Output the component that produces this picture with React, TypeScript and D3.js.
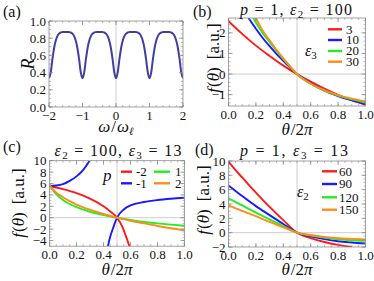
import React from 'react';
import * as d3 from 'd3';

const W = 374;
const H = 281;
const FONT = '"Liberation Serif", "Times New Roman", serif';
const FRAME = '#8c8c8c';
const AXIS = '#c8c8c8';

// (a) R versus omega/omega_l, sampled every 0.05 from -2 to 2
const omegaA = d3.range(81).map(i => -2 + i * 0.05);
const reflA = [
  0.335, 0.40, 0.55, 0.68, 0.77, 0.825, 0.853, 0.866, 0.871, 0.873,
  0.873, 0.873, 0.871, 0.866, 0.853, 0.825, 0.77, 0.68, 0.55, 0.40,
  0.335, 0.40, 0.55, 0.68, 0.77, 0.825, 0.853, 0.866, 0.871, 0.873,
  0.873, 0.873, 0.871, 0.866, 0.853, 0.825, 0.77, 0.68, 0.55, 0.40,
  0.335, 0.40, 0.55, 0.68, 0.77, 0.825, 0.853, 0.866, 0.871, 0.873,
  0.873, 0.873, 0.871, 0.866, 0.853, 0.825, 0.77, 0.68, 0.55, 0.40,
  0.335, 0.40, 0.55, 0.68, 0.77, 0.825, 0.853, 0.866, 0.871, 0.873,
  0.873, 0.873, 0.871, 0.866, 0.853, 0.825, 0.77, 0.68, 0.55, 0.40,
  0.335,
];

// (b) p = 1, eps2 = 100, eps3 = 3, 10, 20, 30
const legendB = ['3', '10', '20', '30'];
const thetaB3 = [0, 0.1, 0.2, 0.3, 0.4, 0.5, 0.6, 0.7, 0.8, 0.9, 1.0];
const fB3 = [2.57, 1.95, 1.38, 0.88, 0.41, 0, -0.37, -0.71, -1.01, -1.27, -1.5];
const thetaB10 = [0.146, 0.2, 0.25, 0.3, 0.35, 0.4, 0.45, 0.5, 0.6, 0.7, 0.8, 0.9, 1.0];
const fB10 = [2.72, 2.2, 1.75, 1.35, 0.98, 0.64, 0.31, 0, -0.45, -0.8, -1.07, -1.28, -1.46];
const thetaB20 = [0.182, 0.2, 0.25, 0.3, 0.35, 0.4, 0.45, 0.5, 0.6, 0.7, 0.8, 0.9, 1.0];
const fB20 = [2.72, 2.5, 1.98, 1.56, 1.13, 0.72, 0.35, 0, -0.47, -0.8, -1.05, -1.23, -1.38];
const thetaB30 = [0.2, 0.25, 0.3, 0.35, 0.4, 0.45, 0.5, 0.6, 0.7, 0.8, 0.9, 1.0];
const fB30 = [2.72, 2.1, 1.64, 1.18, 0.76, 0.37, 0, -0.47, -0.78, -1.02, -1.19, -1.32];

// (c) eps2 = 100, eps3 = 13, p = -2, -1, 1, 2
const legendC = ['-2', '-1', '1', '2'];
const thetaCm2 = [0, 0.1, 0.2, 0.3, 0.4, 0.45, 0.5, 0.54, 0.57, 0.592];
const fCm2 = [5.56, 5.0, 4.3, 3.35, 2.0, 1.1, 0, -1.6, -3.5, -5.0];
const thetaCm1a = [0, 0.05, 0.1, 0.15, 0.2, 0.25, 0.28, 0.297];
const fCm1a = [5.56, 5.65, 5.9, 6.45, 7.25, 8.4, 9.4, 10];
const thetaCm1b = [0.433, 0.45, 0.47, 0.5, 0.55, 0.6, 0.7, 0.8, 0.9, 1.0];
const fCm1b = [-5.0, -3.3, -1.9, 0, 1.45, 2.15, 2.75, 3.1, 3.33, 3.5];
const thetaC = [0, 0.02, 0.05, 0.1, 0.15, 0.2, 0.3, 0.4, 0.5, 0.6, 0.7, 0.8, 0.9, 1.0];
const fC1 = [5.9, 5.0, 4.15, 3.1, 2.4, 1.85, 1.05, 0.47, 0, -0.4, -0.75, -1.0, -1.22, -1.4];
const fC2 = [5.8, 5.1, 4.4, 3.6, 2.9, 2.3, 1.4, 0.65, 0, -0.53, -1.0, -1.45, -1.85, -2.2];

// (d) p = 1, eps3 = 13, eps2 = 60, 90, 120, 150
const legendD = ['60', '90', '120', '150'];
const thetaD60 = [0, 0.05, 0.1, 0.2, 0.3, 0.4, 0.5, 0.6, 0.7, 0.8, 0.9];
const fD60 = [9.9, 8.75, 7.7, 5.6, 3.6, 1.75, 0, -0.75, -1.3, -1.7, -2.0];
const thetaD = [0, 0.1, 0.2, 0.3, 0.4, 0.5, 0.6, 0.7, 0.8, 0.9, 1.0];
const fD90 = [6.6, 5.1, 3.7, 2.45, 1.2, 0, -0.5, -0.9, -1.2, -1.38, -1.52];
const fD120 = [4.8, 3.8, 2.8, 1.85, 0.92, 0, -0.4, -0.7, -0.93, -1.05, -1.15];
const fD150 = [3.8, 3.05, 2.3, 1.5, 0.75, 0, -0.33, -0.58, -0.77, -0.87, -0.95];

const RED = '#ff1a1a';
const BLUE = '#1a1aff';
const GREEN = '#22ee22';
const ORANGE = '#ff8c1a';

type Series = { xs: number[]; ys: number[]; color: string };
type Box = { left: number; right: number; top: number; bottom: number };

type PanelProps = {
  id: string;
  box: Box;
  xDomain: [number, number];
  yDomain: [number, number];
  xMajor: number[];
  xMinor: number[];
  yMajor: number[];
  yMinor: number[];
  xFmt: (v: number) => string;
  yFmt: (v: number) => string;
  axisX: number;
  axisY: number | null;
  series: Series[];
  lineWidth: number;
};

function Panel(p: PanelProps) {
  const x = d3.scaleLinear().domain(p.xDomain).range([p.box.left, p.box.right]);
  const y = d3.scaleLinear().domain(p.yDomain).range([p.box.bottom, p.box.top]);
  const line = d3
    .line<[number, number]>()
    .x(d => x(d[0]))
    .y(d => y(d[1]))
    .curve(d3.curveMonotoneX);
  const { left, right, top, bottom } = p.box;

  return (
    <g>
      <defs>
        <clipPath id={p.id}>
          <rect x={left} y={top} width={right - left} height={bottom - top} />
        </clipPath>
      </defs>
      <line x1={x(p.axisX)} x2={x(p.axisX)} y1={top} y2={bottom} stroke={AXIS} strokeWidth={0.9} />
      {p.axisY !== null && (
        <line x1={left} x2={right} y1={y(p.axisY)} y2={y(p.axisY)} stroke={AXIS} strokeWidth={0.9} />
      )}
      <g clipPath={`url(#${p.id})`}>
        {p.series.map((s, i) => (
          <path
            key={i}
            d={line(s.xs.map((v, j) => [v, s.ys[j]] as [number, number])) || ''}
            fill="none"
            stroke={s.color}
            strokeWidth={p.lineWidth}
          />
        ))}
      </g>
      <rect x={left} y={top} width={right - left} height={bottom - top} fill="none" stroke={FRAME} strokeWidth={0.8} />
      {p.xMajor.map(v => (
        <g key={'xm' + v}>
          <line x1={x(v)} x2={x(v)} y1={bottom} y2={bottom - 4} stroke={FRAME} strokeWidth={0.8} />
          <line x1={x(v)} x2={x(v)} y1={top} y2={top + 4} stroke={FRAME} strokeWidth={0.8} />
        </g>
      ))}
      {p.xMinor.map(v => (
        <g key={'xn' + v}>
          <line x1={x(v)} x2={x(v)} y1={bottom} y2={bottom - 2} stroke={FRAME} strokeWidth={0.6} />
          <line x1={x(v)} x2={x(v)} y1={top} y2={top + 2} stroke={FRAME} strokeWidth={0.6} />
        </g>
      ))}
      {p.yMajor.map(v => (
        <g key={'ym' + v}>
          <line x1={left} x2={left + 4} y1={y(v)} y2={y(v)} stroke={FRAME} strokeWidth={0.8} />
          <line x1={right} x2={right - 4} y1={y(v)} y2={y(v)} stroke={FRAME} strokeWidth={0.8} />
        </g>
      ))}
      {p.yMinor.map(v => (
        <g key={'yn' + v}>
          <line x1={left} x2={left + 2} y1={y(v)} y2={y(v)} stroke={FRAME} strokeWidth={0.6} />
          <line x1={right} x2={right - 2} y1={y(v)} y2={y(v)} stroke={FRAME} strokeWidth={0.6} />
        </g>
      ))}
      <g fontFamily={FONT} fontSize={13} fill="#111">
        {p.xMajor.map(v => (
          <text key={'xl' + v} x={x(v)} y={bottom + 13} textAnchor="middle">
            {p.xFmt(v)}
          </text>
        ))}
        {p.yMajor.map(v => (
          <text key={'yl' + v} x={left - 3} y={y(v) + 4.5} textAnchor="end">
            {p.yFmt(v)}
          </text>
        ))}
      </g>
    </g>
  );
}

const minus = (s: string) => s.replace('-', '\u2212');
const fmt1 = (v: number) => minus(v.toFixed(1));
const fmt0 = (v: number) => minus(String(v));

const rangeOf = (a: number, b: number, step: number) =>
  d3.range(Math.round((b - a) / step) + 1).map(i => +(a + i * step).toFixed(4));

function Legend({ x1, x2, tx, ys, labels, colors }: { x1: number; x2: number; tx: number; ys: number[]; labels: string[]; colors: string[] }) {
  return (
    <g fontFamily={FONT} fontSize={13} fill="#111">
      {labels.map((l, i) => (
        <g key={l}>
          <line x1={x1} x2={x2} y1={ys[i]} y2={ys[i]} stroke={colors[i]} strokeWidth={2.4} />
          <text x={tx} y={ys[i] + 4.3}>{l}</text>
        </g>
      ))}
    </g>
  );
}

function YLabel({ cx, cy }: { cx: number; cy: number }) {
  return (
    <text transform={`translate(${cx},${cy}) rotate(-90)`} textAnchor="middle" fontFamily={FONT} fontSize={17} fill="#111" y={6}>
      <tspan fontStyle="italic">f</tspan>
      <tspan dx={1}>(</tspan>
      <tspan fontStyle="italic">θ</tspan>
      <tspan>)</tspan>
      <tspan dx={8}>[a.u.]</tspan>
    </text>
  );
}

function XLabel({ cx, y }: { cx: number; y: number }) {
  return (
    <text x={cx} y={y} textAnchor="middle" fontFamily={FONT} fontSize={17} fill="#111">
      <tspan fontStyle="italic">θ</tspan>
      <tspan dx={1}>/2</tspan>
      <tspan fontStyle="italic">π</tspan>
    </text>
  );
}

export default function App() {
  const boxA = { left: 49, right: 183, top: 21, bottom: 107 };
  const boxB = { left: 228.5, right: 365.5, top: 18, bottom: 106 };
  const boxC = { left: 49.5, right: 184.5, top: 160.7, bottom: 246.2 };
  const boxD = { left: 228.5, right: 365.5, top: 161, bottom: 247 };
  const colors = [RED, BLUE, GREEN, ORANGE];

  return (
    <svg width={W} height={H} style={{ position: 'absolute', left: 0, top: 0, background: '#fff' }}>
      <rect width={W} height={H} fill="#fff" />
      {/* (a) */}
      <Panel
        id="clipA"
        box={boxA}
        xDomain={[-2, 2]}
        yDomain={[0, 1]}
        xMajor={rangeOf(-2, 2, 1)}
        xMinor={rangeOf(-2, 2, 0.2)}
        yMajor={rangeOf(0, 1, 0.2)}
        yMinor={rangeOf(0, 1, 0.05)}
        xFmt={fmt0}
        yFmt={fmt1}
        axisX={0}
        axisY={null}
        series={[{ xs: omegaA, ys: reflA, color: '#3f3f9f' }]}
        lineWidth={2}
      />
      {/* (b) */}
      <Panel
        id="clipB"
        box={boxB}
        xDomain={[0, 1]}
        yDomain={[-1.55, 2.72]}
        xMajor={rangeOf(0, 1, 0.2)}
        xMinor={rangeOf(0, 1, 0.05)}
        yMajor={rangeOf(-1, 2, 1)}
        yMinor={rangeOf(-1.4, 2.6, 0.2)}
        xFmt={fmt1}
        yFmt={fmt0}
        axisX={0.5}
        axisY={0}
        series={[
          { xs: thetaB3, ys: fB3, color: RED },
          { xs: thetaB10, ys: fB10, color: BLUE },
          { xs: thetaB20, ys: fB20, color: GREEN },
          { xs: thetaB30, ys: fB30, color: ORANGE },
        ]}
        lineWidth={1.9}
      />
      {/* (c) */}
      <Panel
        id="clipC"
        box={boxC}
        xDomain={[0, 1]}
        yDomain={[-5, 10]}
        xMajor={rangeOf(0, 1, 0.2)}
        xMinor={rangeOf(0, 1, 0.05)}
        yMajor={rangeOf(-4, 10, 2)}
        yMinor={rangeOf(-5, 10, 0.5)}
        xFmt={fmt1}
        yFmt={fmt0}
        axisX={0.5}
        axisY={0}
        series={[
          { xs: thetaCm2, ys: fCm2, color: RED },
          { xs: thetaCm1a, ys: fCm1a, color: BLUE },
          { xs: thetaCm1b, ys: fCm1b, color: BLUE },
          { xs: thetaC, ys: fC1, color: GREEN },
          { xs: thetaC, ys: fC2, color: ORANGE },
        ]}
        lineWidth={1.9}
      />
      {/* (d) */}
      <Panel
        id="clipD"
        box={boxD}
        xDomain={[0, 1]}
        yDomain={[-2, 10]}
        xMajor={rangeOf(0, 1, 0.2)}
        xMinor={rangeOf(0, 1, 0.05)}
        yMajor={rangeOf(-2, 10, 2)}
        yMinor={rangeOf(-2, 10, 0.5)}
        xFmt={fmt1}
        yFmt={fmt0}
        axisX={0.5}
        axisY={0}
        series={[
          { xs: thetaD60, ys: fD60, color: RED },
          { xs: thetaD, ys: fD90, color: BLUE },
          { xs: thetaD, ys: fD120, color: GREEN },
          { xs: thetaD, ys: fD150, color: ORANGE },
        ]}
        lineWidth={1.9}
      />

      <g fontFamily={FONT} fill="#111">
        {/* panel tags */}
        <text x={3} y={17} fontSize={16}>(a)</text>
        <text x={193} y={17} fontSize={16}>(b)</text>
        <text x={3} y={152} fontSize={16}>(c)</text>
        <text x={195} y={155} fontSize={16}>(d)</text>

        {/* (a) axis labels */}
        <text transform="translate(34,64) rotate(-90)" textAnchor="middle" fontSize={18} fontStyle="italic">R</text>
        <text x={116} y={132} textAnchor="middle" fontSize={17}>
          <tspan fontStyle="italic">ω</tspan>
          <tspan dx={1}>/</tspan>
          <tspan fontStyle="italic" dx={1}>ω</tspan>
          <tspan fontSize={11} dy={3} fontStyle="italic">ℓ</tspan>
        </text>

        {/* titles */}
        <text x={296} y={15} textAnchor="middle" fontSize={16} textLength={112} lengthAdjust="spacing">
          <tspan fontStyle="italic">p</tspan> = 1, <tspan fontStyle="italic">ε</tspan>
          <tspan fontSize={11} dy={3}>2</tspan>
          <tspan dy={-3}> = 100</tspan>
        </text>
        <text x={118} y={156} textAnchor="middle" fontSize={16} textLength={127} lengthAdjust="spacing">
          <tspan fontStyle="italic">ε</tspan>
          <tspan fontSize={11} dy={3}>2</tspan>
          <tspan dy={-3}> = 100, </tspan>
          <tspan fontStyle="italic">ε</tspan>
          <tspan fontSize={11} dy={3}>3</tspan>
          <tspan dy={-3}> = 13</tspan>
        </text>
        <text x={294} y={156} textAnchor="middle" fontSize={16} textLength={108} lengthAdjust="spacing">
          <tspan fontStyle="italic">p</tspan> = 1, <tspan fontStyle="italic">ε</tspan>
          <tspan fontSize={11} dy={3}>3</tspan>
          <tspan dy={-3}> = 13</tspan>
        </text>

        {/* legend titles */}
        <text x={305} y={56} fontSize={16}>
          <tspan fontStyle="italic">ε</tspan>
          <tspan fontSize={11} dy={3}>3</tspan>
        </text>
        <text x={103} y={181} fontSize={17} fontStyle="italic">p</text>
        <text x={297} y={197} fontSize={16}>
          <tspan fontStyle="italic">ε</tspan>
          <tspan fontSize={11} dy={3}>2</tspan>
        </text>
      </g>

      <YLabel cx={213} cy={58} />
      <YLabel cx={18} cy={203} />
      <YLabel cx={203} cy={200} />
      <XLabel cx={297} y={135} />
      <XLabel cx={117} y={275} />
      <XLabel cx={297} y={275} />

      <Legend x1={328} x2={342} tx={346} ys={[29.3, 40, 51, 61.7]} labels={legendB} colors={colors} />
      <Legend x1={121} x2={132} tx={136} ys={[171.7, 183.3]} labels={[legendC[0], legendC[1]]} colors={[RED, BLUE]} />
      <Legend x1={154} x2={170} tx={175} ys={[171.7, 183.3]} labels={[legendC[2], legendC[3]]} colors={[GREEN, ORANGE]} />
      <Legend x1={322} x2={337} tx={339} ys={[171.3, 184, 197.3, 209.7]} labels={legendD} colors={colors} />
    </svg>
  );
}
